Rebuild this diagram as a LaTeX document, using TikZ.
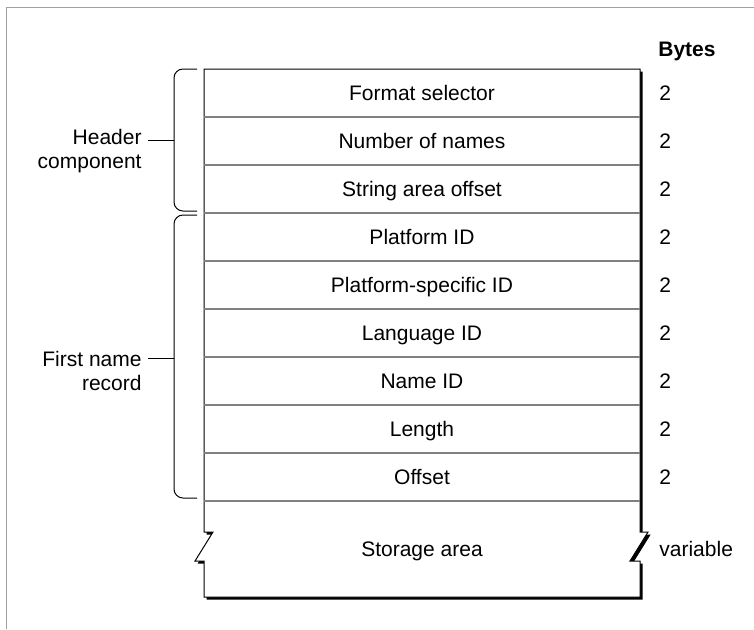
\documentclass[tikz,border=0pt]{standalone}
\usepackage{fontspec}
\setmainfont{Liberation Sans}
\usetikzlibrary{positioning}
\definecolor{framegray}{HTML}{A0A0A0}
\definecolor{rulegray}{HTML}{808080}
\tikzset{
  field/.style={anchor=base, inner sep=0pt},
  bytes/.style={anchor=base west, inner sep=0pt},
  sidelabel/.style={anchor=base east, align=right, inner sep=0pt},
  bracket/.style={line width=0.5pt, rounded corners=4.5pt},
  sep/.style={rulegray, line width=0.7pt}
}

\begin{document}
\begin{tikzpicture}[x=0.5pt, y=-0.5pt, font=\fontsize{10.5}{12}\selectfont]
  \useasboundingbox (0,0) rectangle (754,629);
  \draw[framegray, line width=0.5pt] (6,629) -- (6,7.5) -- (754,7.5);

  % record outline with shadow
  \fill[black] ([xshift=1.3pt, yshift=-1.3pt]204,69) -- ++(436,0) -- ++(0,463) -- ++(8,0)
    -- ++(-18,29) -- ++(10,0) -- ++(0,36) -- ++(-436,0) -- ++(0,-36) -- ++(-9,0)
    -- ++(18,-29) -- ++(-9,0) -- cycle;
  \filldraw[fill=white, draw=black, line width=0.5pt] (204,69) -- (640,69) -- (640,532)
    -- (648,532) -- (630,561) -- (640,561) -- (640,597) -- (204,597) -- (204,561)
    -- (195,561) -- (213,532) -- (204,532) -- cycle;

  \draw[sep] (204,117) -- (640,117);
  \draw[sep] (204,165) -- (640,165);
  \draw[sep] (204,213) -- (640,213);
  \draw[sep] (204,261) -- (640,261);
  \draw[sep] (204,309) -- (640,309);
  \draw[sep] (204,357) -- (640,357);
  \draw[sep] (204,405) -- (640,405);
  \draw[sep] (204,453) -- (640,453);
  \draw[sep] (204,501) -- (640,501);

  \node[field] (fmtsel) at (422,100.5) {Format selector};
  \node[field] (numnames) at (422,148.5) {Number of names};
  \node[field] (stroff) at (422,196.5) {String area offset};
  \node[field] (platid) at (422,244.5) {Platform ID};
  \node[field] (specid) at (422,292.5) {Platform-specific ID};
  \node[field] (langid) at (422,340.5) {Language ID};
  \node[field] (nameid) at (422,388.5) {Name ID};
  \node[field] (length) at (422,436.5) {Length};
  \node[field] (offset) at (422,484.5) {Offset};
  \node[field] (storage) at (422,556) {Storage area};

  \node[bytes, font=\fontsize{10.5}{12}\bfseries] (byteshead) at (658,56) {Bytes};
  \node[bytes] (fmtselb) at (659,100) {2};
  \node[bytes] (numnamesb) at (659,148) {2};
  \node[bytes] (stroffb) at (659,196) {2};
  \node[bytes] (platidb) at (659,244) {2};
  \node[bytes] (specidb) at (659,292) {2};
  \node[bytes] (langidb) at (659,340) {2};
  \node[bytes] (nameidb) at (659,388) {2};
  \node[bytes] (lengthb) at (659,436) {2};
  \node[bytes] (offsetb) at (659,484) {2};
  \node[bytes] (storageb) at (659,556) {variable};

  % brackets
  \draw[bracket] (197,69) -- (174,69) -- (174,211) -- (197,211);
  \draw[bracket] (197,215) -- (174,215) -- (174,498) -- (197,498);
  \coordinate (hdrtick) at (174,140);
  \coordinate (rectick) at (174,358);
  \node[sidelabel] (hdrlbl) at (142,168) {Header\\component};
  \node[sidelabel] (reclbl) at (142,390) {First name\\record};
  \draw[line width=0.5pt] (hdrtick) -- ([xshift=3pt]hdrtick -| hdrlbl.east);
  \draw[line width=0.5pt] (rectick) -- ([xshift=3pt]rectick -| reclbl.east);
\end{tikzpicture}
\end{document}
